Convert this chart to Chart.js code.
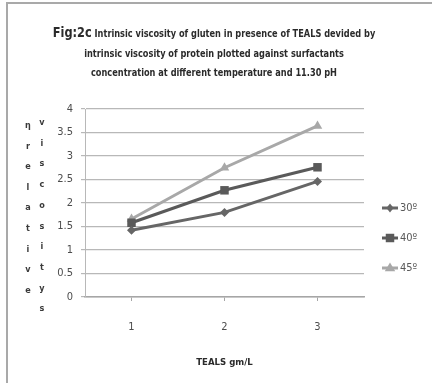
<!DOCTYPE html>
<html lang="en">
<head>
    <meta charset="UTF-8">
    <title>Fig:2c</title>
    <style>
        html, body { margin: 0; padding: 0; background: #fff; }
        body { width: 432px; height: 383px; position: relative; overflow: hidden; }
        .frame {
            position: absolute; left: 6px; top: 2px; width: 440px; height: 400px;
            border-left: 2px solid #a9a9a9; border-top: 2px solid #a9a9a9;
        }
        canvas { position: absolute; left: 0; top: 0; }
        .titulo {
            position: absolute; left: 0; top: 23px; width: 428px;
            text-align: center; color: #2b2b2b;
            font-family: "Liberation Sans Narrow", "DejaVu Sans Condensed", sans-serif;
            font-weight: bold; font-size: 10.5px; line-height: 19.5px;
            transform: scaleX(0.87); transform-origin: 214px 0;
        }
        .titulo .fig { font-size: 14.5px; }
        .coluna {
            position: absolute; width: 10px; text-align: center; color: #3a3a3a;
            font-family: "Liberation Sans Narrow", "DejaVu Sans Condensed", sans-serif;
            font-weight: bold; font-size: 9px;
        }
        .coluna span { position: absolute; left: 0; width: 10px; }
    </style>
    <script src="https://cdn.jsdelivr.net/npm/chart.js"></script>
</head>
<body>
    <div class="frame"></div>
    <canvas id="grafico" width="432" height="383"></canvas>
    <div class="titulo">
        <span class="fig">Fig:2c</span> Intrinsic viscosity of gluten in presence of TEALS devided by<br>
        intrinsic viscosity of protein plotted against surfactants<br>
        concentration at different temperature and 11.30 pH
    </div>
    <div class="coluna" id="col1" style="left:23px; top:0;"></div>
    <div class="coluna" id="col2" style="left:37px; top:0;"></div>

    <script>
        // dados
        const categorias = ['1', '2', '3'];
        const series = ['30º', '40º', '45º'];
        const temp30 = [1.42, 1.8, 2.46];
        const temp40 = [1.58, 2.27, 2.76];
        const temp45 = [1.66, 2.75, 3.64];
        const rotulosY = ['0', '0.5', '1', '1.5', '2', '2.5', '3', '3.5', '4'];
        const tituloX = 'TEALS gm/L';
        const tituloY1 = ['η', 'r', 'e', 'l', 'a', 't', 'i', 'v', 'e'];
        const tituloY2 = ['v', 'i', 's', 'c', 'o', 's', 'i', 't', 'y', 's'];

        // letras do título do eixo Y empilhadas
        function montarColuna(id, letras, inicio, passo) {
            const el = document.getElementById(id);
            letras.forEach((l, i) => {
                const s = document.createElement('span');
                s.textContent = l;
                s.style.top = (inicio + i * passo - 6) + 'px';
                el.appendChild(s);
            });
        }
        montarColuna('col1', tituloY1, 126, 20.6);
        montarColuna('col2', tituloY2, 123, 20.7);

        const fonte = "'Liberation Sans Narrow', 'DejaVu Sans Condensed', sans-serif";
        const legendaY = [208, 238, 268];

        function marcador(ctx, tipo, x, y, r) {
            ctx.beginPath();
            if (tipo === 'rectRot') {
                ctx.moveTo(x, y - r); ctx.lineTo(x + r * 0.8, y); ctx.lineTo(x, y + r); ctx.lineTo(x - r * 0.8, y);
            } else if (tipo === 'rect') {
                const s = r * Math.SQRT1_2;
                ctx.rect(x - s, y - s, 2 * s, 2 * s);
            } else {
                ctx.moveTo(x, y - r); ctx.lineTo(x + r * 0.95, y + r * 0.6); ctx.lineTo(x - r * 0.95, y + r * 0.6);
            }
            ctx.closePath();
            ctx.fill();
        }

        // legenda desenhada à direita
        const legendaPlugin = {
            id: 'legendaPlugin',
            afterDraw(chart) {
                const ctx = chart.ctx;
                ctx.save();
                chart.data.datasets.forEach((ds, i) => {
                    const y = legendaY[i];
                    ctx.strokeStyle = ds.borderColor;
                    ctx.fillStyle = ds.borderColor;
                    ctx.lineWidth = 3;
                    ctx.beginPath();
                    ctx.moveTo(382, y); ctx.lineTo(398, y); ctx.stroke();
                    marcador(ctx, ds.pointStyle, 390, y, ds.pointRadius);
                    ctx.fillStyle = '#595959';
                    ctx.font = '11px ' + fonte;
                    ctx.textAlign = 'left';
                    ctx.textBaseline = 'middle';
                    ctx.fillText(ds.label, 400, y);
                });
                ctx.restore();
            }
        };

        const ctx = document.getElementById('grafico').getContext('2d');
        new Chart(ctx, {
            type: 'line',
            data: {
                labels: categorias,
                datasets: [
                    { label: series[0], data: temp30, borderColor: '#666666', backgroundColor: '#666666',
                      borderWidth: 3, pointStyle: 'rectRot', pointRadius: 4.5, pointBorderWidth: 0, tension: 0 },
                    { label: series[1], data: temp40, borderColor: '#5a5a5a', backgroundColor: '#5a5a5a',
                      borderWidth: 3, pointStyle: 'rect', pointRadius: 6, pointBorderWidth: 0, tension: 0 },
                    { label: series[2], data: temp45, borderColor: '#a8a8a8', backgroundColor: '#a8a8a8',
                      borderWidth: 3, pointStyle: 'triangle', pointRadius: 5.5, pointBorderWidth: 0, tension: 0 }
                ]
            },
            options: {
                responsive: false,
                animation: false,
                layout: { padding: { top: 109, right: 68, left: 0, bottom: 0 } },
                plugins: {
                    legend: { display: false },
                    tooltip: { enabled: false }
                },
                scales: {
                    x: {
                        offset: true,
                        afterFit: s => { s.height = 86; },
                        grid: { drawOnChartArea: false, drawTicks: true, tickLength: 4, color: '#a6a6a6' },
                        border: { color: '#a6a6a6', width: 1.5 },
                        ticks: { color: '#4d4d4d', font: { family: fonte, size: 11 }, padding: 20 },
                        title: { display: true, text: tituloX, color: '#2b2b2b',
                                 font: { family: fonte, size: 9.5, weight: 'bold' }, padding: { bottom: 15 } }
                    },
                    y: {
                        min: 0, max: 4,
                        afterFit: s => { s.width = 85; },
                        grid: { color: '#b8b8b8', lineWidth: 1.2, tickLength: 4 },
                        border: { color: '#b8b8b8' },
                        ticks: { stepSize: 0.5, padding: 8, color: '#4d4d4d',
                                 font: { family: fonte, size: 11 },
                                 callback: (v, i) => rotulosY[i] }
                    }
                }
            },
            plugins: [legendaPlugin]
        });
    </script>
</body>
</html>
